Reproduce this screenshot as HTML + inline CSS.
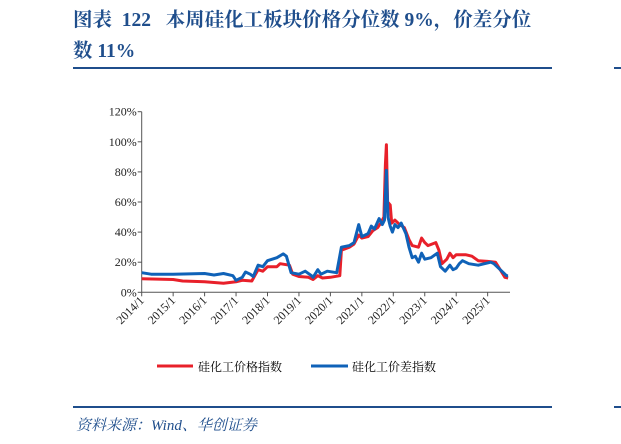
<!DOCTYPE html>
<html><head><meta charset="utf-8"><style>
body{margin:0;background:#fff;width:621px;height:444px;overflow:hidden;font-family:"Liberation Serif","Noto Serif CJK SC",serif;}
.abs{position:absolute}
svg text{font-family:"Liberation Serif","Noto Serif CJK SC",serif;}
</style></head><body>
<div class="abs" style="left:73px;top:5px;width:540px;font-size:19.5px;font-weight:bold;color:#1f4e8c;line-height:31px;white-space:nowrap;font-family:'Liberation Serif','Noto Serif CJK SC',serif;">图表&nbsp;&nbsp;122&nbsp;&nbsp;&nbsp;本周硅化工板块价格分位数 9%，价差分位<br>数 11%</div>
<div class="abs" style="left:73px;top:67px;width:479px;height:2px;background:#1f4e8c"></div>
<div class="abs" style="left:614px;top:67px;width:7px;height:2px;background:#1f4e8c"></div>
<div class="abs" style="left:73px;top:406px;width:479px;height:2px;background:#1f4e8c"></div>
<div class="abs" style="left:614px;top:406px;width:7px;height:2px;background:#1f4e8c"></div>
<div class="abs" style="left:76px;top:414px;font-size:15px;font-style:italic;color:#1f4e8c;">资料来源：Wind、华创证券</div>
<svg class="abs" style="left:0;top:0" width="621" height="444">
<g id="axes"></g><g id="lines"></g>
<g>
<line x1="157" y1="366" x2="193" y2="366" stroke="#e8202a" stroke-width="3"/>
<text x="198" y="371" font-size="12">硅化工价格指数</text>
<line x1="311" y1="366" x2="348" y2="366" stroke="#0f62b8" stroke-width="3"/>
<text x="352" y="371" font-size="12">硅化工价差指数</text>
</g>
</svg>
<script>
const yTicks=[0,20,40,60,80,100,120];
const xTickLabels=["2014/1","2015/1","2016/1","2017/1","2018/1","2019/1","2020/1","2021/1","2022/1","2023/1","2024/1","2025/1"];
const priceT=[2014.0,2015.0,2015.3,2016.0,2016.6,2017.0,2017.2,2017.5,2017.7,2017.85,2018.0,2018.3,2018.4,2018.7,2018.8,2019.0,2019.3,2019.45,2019.6,2019.75,2020.0,2020.3,2020.35,2020.6,2020.75,2020.9,2021.0,2021.2,2021.35,2021.5,2021.6,2021.7,2021.75,2021.78,2021.82,2021.9,2021.95,2022.05,2022.2,2022.35,2022.5,2022.6,2022.8,2022.9,2023.0,2023.1,2023.35,2023.45,2023.55,2023.7,2023.8,2023.9,2024.0,2024.3,2024.5,2024.7,2025.0,2025.25,2025.4,2025.55,2025.65];
const priceV=[9,8.5,7.5,7,6,7,8,7.5,15,14,17,17,19,18,12,10.5,10,8.5,11,9.5,10,11,28,30,32,38,36,37,41,43,46,50,85,98,60,58,46,48,45,43,35,31,30,36,33,31,33,28,19,22,26,23,25,25,24,21,20.5,20,15,10,9.5];
const spreadT=[2014.0,2014.3,2015.0,2016.0,2016.3,2016.6,2016.9,2017.0,2017.2,2017.3,2017.45,2017.55,2017.7,2017.85,2018.0,2018.3,2018.5,2018.6,2018.75,2019.0,2019.2,2019.4,2019.45,2019.6,2019.7,2019.9,2020.2,2020.35,2020.6,2020.75,2020.9,2021.0,2021.2,2021.3,2021.4,2021.55,2021.65,2021.72,2021.78,2021.83,2021.9,2021.97,2022.05,2022.15,2022.25,2022.4,2022.5,2022.6,2022.7,2022.8,2022.9,2023.0,2023.2,2023.4,2023.5,2023.65,2023.8,2023.9,2024.0,2024.1,2024.2,2024.4,2024.7,2024.9,2025.1,2025.2,2025.45,2025.6,2025.65];
const spreadV=[13,12,12,12.5,11.5,12.5,11,8,10,13.5,12,10.5,18,17,21,23,25.5,24,13,12,14,11,10,15,12,14,13,30,31,33,45,37,39,44,42,49,45,48,81,50,44,40,45,43,46,39,30,23,24,20,26,22,23,26,17,14,18,15,16,19,21,19,18,19,20,19,14,11,11];
const X0=141.7,XS=31.45,Y0=292.3,YS=180.6/120,XEND=510;
const xs=t=>X0+(t-2014)*XS, ys=v=>Y0-v*YS;
const NS="http://www.w3.org/2000/svg";
const ax=document.getElementById('axes'), ln=document.getElementById('lines');
function mk(tag,attrs,parent){const e=document.createElementNS(NS,tag);for(const k in attrs)e.setAttribute(k,attrs[k]);parent.appendChild(e);return e;}
let e=mk('line',{x1:X0,y1:ys(120),x2:X0,y2:Y0,stroke:'#555','stroke-width':1},ax);


e=mk('line',{x1:X0,y1:Y0,x2:XEND,y2:Y0,stroke:'#555','stroke-width':1},ax);


yTicks.forEach(v=>{
 mk('line',{x1:X0-4,y1:ys(v),x2:X0,y2:ys(v),stroke:'#555'},ax);
 const t=mk('text',{x:X0-5,y:ys(v)+4,'text-anchor':'end','font-size':12,fill:'#222'},ax);
 t.textContent=v+'%';
 
 
});
xTickLabels.forEach((l,i)=>{
 const x=xs(2014+i);
 mk('line',{x1:x,y1:Y0,x2:x,y2:Y0+4,stroke:'#555'},ax);
 const t=mk('text',{x:x+3,y:Y0+9,'text-anchor':'end','font-size':12,fill:'#222',transform:`rotate(-45 ${x+3} ${Y0+9})`},ax);
 t.textContent=l;
 
 
});
function path(T,V,col,name){
 const d=T.map((t,i)=>(i?'L':'M')+xs(t).toFixed(1)+','+ys(V[i]).toFixed(1)).join('');
 const p=mk('path',{d:d,fill:'none',stroke:col,'stroke-width':3,'stroke-linejoin':'round'},ln);
 
 
}
path(priceT,priceV,'#e8202a','price-index-line');
path(spreadT,spreadV,'#0f62b8','spread-index-line');
</script>
</body></html>
